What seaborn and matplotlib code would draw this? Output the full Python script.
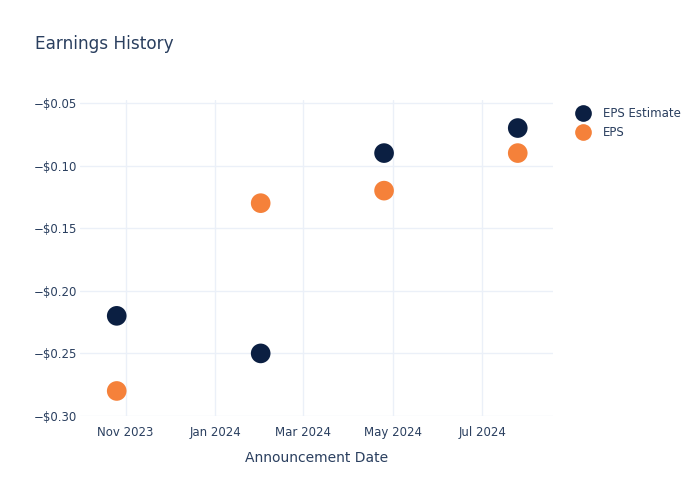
import matplotlib
matplotlib.use("Agg")
import matplotlib.pyplot as plt
import seaborn as sns
import pandas as pd

dates = ["2023-10-26", "2024-02-01", "2024-04-25", "2024-07-25"]
eps_estimate = [-0.22, -0.25, -0.09, -0.07]
eps_actual = [-0.28, -0.13, -0.12, -0.09]
series_names = ["EPS Estimate", "EPS"]
colors = ["#0b1f42", "#f5813a"]
ytick_vals = [-0.30, -0.25, -0.20, -0.15, -0.10, -0.05]
xtick_dates = ["2023-11-01", "2024-01-01", "2024-03-01", "2024-05-01", "2024-07-01"]

df = pd.DataFrame({
    "date": pd.to_datetime(dates * 2),
    "value": eps_estimate + eps_actual,
    "series": [series_names[0]] * len(dates) + [series_names[1]] * len(dates),
})

sns.set_theme(style="white")
plt.rcParams["font.family"] = ["DejaVu Sans"]
text_color = "#2a3f5f"
grid_color = "#ebf0f8"

fig = plt.figure(figsize=(7, 5), dpi=100)
ax = fig.add_axes([80 / 700, 1 - 416 / 500, (553 - 80) / 700, (416 - 100) / 500])

sns.scatterplot(data=df, x="date", y="value", hue="series", hue_order=series_names,
                palette=colors, s=200, edgecolor="none", ax=ax, zorder=3, legend=True)

ax.set_xlim(pd.Timestamp("2023-10-01"), pd.Timestamp("2024-08-18"))
ax.set_ylim(-0.30, -0.0476)
ax.set_yticks(ytick_vals)
ax.set_yticklabels([f"\u2212${abs(v):.2f}" for v in ytick_vals])
xt = pd.to_datetime(xtick_dates)
ax.set_xticks(xt)
ax.set_xticklabels([d.strftime("%b %Y") for d in xt])

for s in ax.spines.values():
    s.set_visible(False)
ax.grid(True, color=grid_color, linewidth=1)
ax.set_axisbelow(True)
ax.tick_params(axis="both", length=0, labelsize=8.5, colors=text_color)
ax.tick_params(axis="x", pad=7)
ax.tick_params(axis="y", pad=2)
ax.set_xlabel("Announcement Date", fontsize=10, color=text_color, labelpad=9)
ax.set_ylabel("")

leg = ax.legend(loc="upper left", bbox_to_anchor=(566 / 700, 1 - 102 / 500),
                bbox_transform=fig.transFigure, frameon=False, fontsize=8.5,
                handletextpad=0.7, labelspacing=0.55, borderaxespad=0,
                markerscale=0.85)
for t in leg.get_texts():
    t.set_color(text_color)

fig.text(35 / 700, 1 - 44 / 500, "Earnings History", fontsize=12.2, color=text_color, va="center")

fig.savefig("out.png", dpi=100)
